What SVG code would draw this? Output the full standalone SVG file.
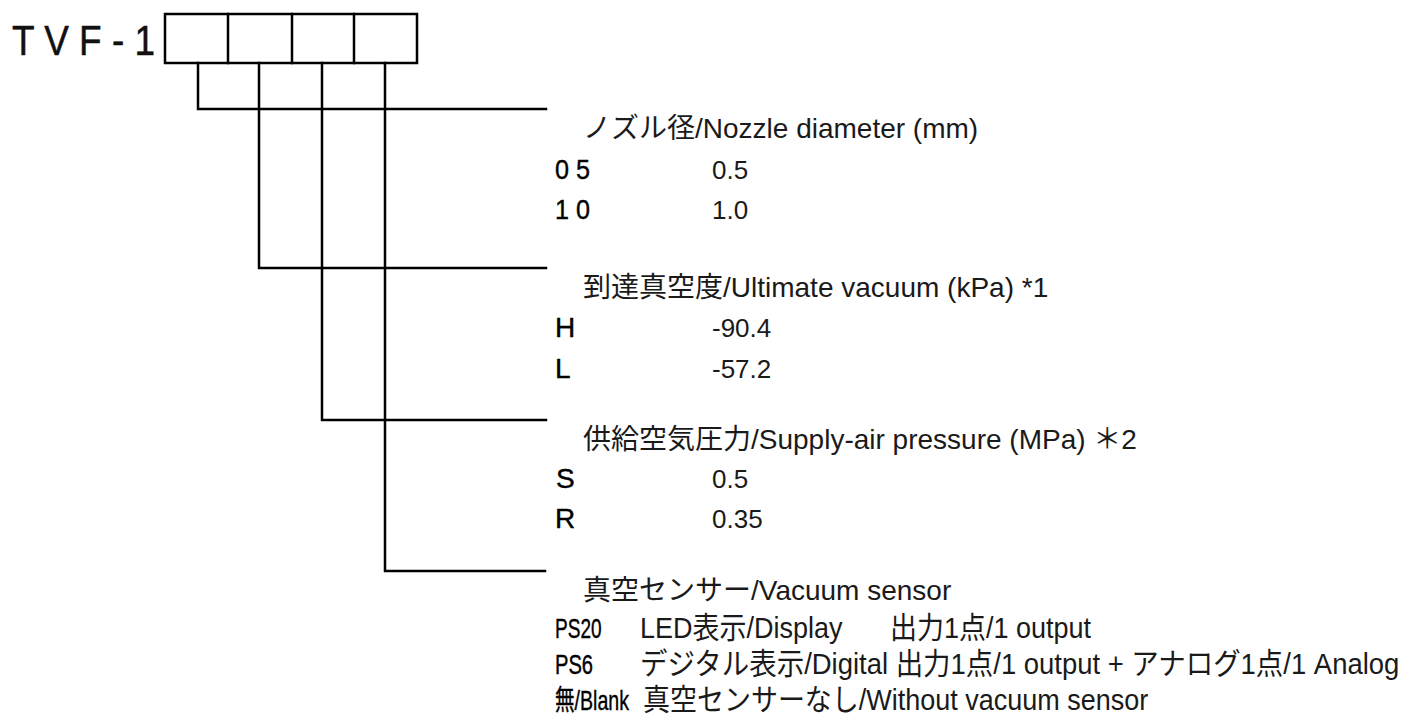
<svg xmlns="http://www.w3.org/2000/svg" width="1408" height="724" viewBox="0 0 1408 724">
<style>
.ln{stroke:#000;stroke-width:2.5;fill:none;stroke-linecap:square}
.hd{font-family:"Liberation Sans","Noto Sans CJK JP",sans-serif;font-size:28px;fill:#1a1a1a}
.cd{font-family:"Liberation Sans","Noto Sans CJK JP",sans-serif;font-size:28px;fill:#000;stroke:#000;stroke-width:0.4}
.vl{font-family:"Liberation Sans",sans-serif;font-size:26px;fill:#1a1a1a}
.ds{font-family:"Liberation Sans","Noto Sans CJK JP",sans-serif;font-size:30px;fill:#1a1a1a}
</style>
<rect width="1408" height="724" fill="#fff"/>
<g id="model">
<text transform="translate(12,55) scale(0.86,1)" font-family="Liberation Sans,sans-serif" font-size="43" fill="#111" stroke="#111" stroke-width="0.5">T V F - 1</text>
<rect class="ln" x="165" y="14" width="252" height="49"/>
<line class="ln" x1="228" y1="14" x2="228" y2="63"/>
<line class="ln" x1="292" y1="14" x2="292" y2="63"/>
<line class="ln" x1="354" y1="14" x2="354" y2="63"/>
</g>
<g id="connectors">
<polyline class="ln" points="198,63 198,109 546,109"/>
<polyline class="ln" points="259,63 259,268 546,268"/>
<polyline class="ln" points="322,63 322,420 546,420"/>
<polyline class="ln" points="385,63 385,571 545,571"/>
</g>
<g id="nozzle">
<text class="hd" x="583" y="138">ノズル径/Nozzle diameter (mm)</text>
<text class="cd" transform="translate(555,179) scale(0.9,1)">0 5</text>
<text class="vl" x="712" y="179">0.5</text>
<text class="cd" transform="translate(555,219) scale(0.9,1)">1 0</text>
<text class="vl" x="712" y="219">1.0</text>
</g>
<g id="vacuum">
<text class="hd" x="583" y="297">到達真空度/Ultimate vacuum (kPa) *1</text>
<text class="cd" x="555" y="337">H</text>
<text class="vl" x="712" y="337">-90.4</text>
<text class="cd" x="555" y="378">L</text>
<text class="vl" x="712" y="378">-57.2</text>
</g>
<g id="pressure">
<text class="hd" x="583" y="449">供給空気圧力/Supply-air pressure (MPa) ＊2</text>
<text class="cd" x="556" y="488">S</text>
<text class="vl" x="712" y="488">0.5</text>
<text class="cd" x="555" y="528">R</text>
<text class="vl" x="712" y="528">0.35</text>
</g>
<g id="sensor">
<text class="hd" x="583" y="600">真空センサー/Vacuum sensor</text>
<text class="cd" transform="translate(555,638) scale(0.68,1)">PS20</text>
<text class="ds" transform="translate(640,638) scale(0.9,1)">LED表示/Display</text>
<text class="ds" transform="translate(890,638) scale(0.9,1)">出力1点/1 output</text>
<text class="cd" transform="translate(555,674) scale(0.72,1)">PS6</text>
<text class="ds" transform="translate(640,674) scale(0.915,1)">デジタル表示/Digital 出力1点/1 output + アナログ1点/1 Analog</text>
<text class="cd" transform="translate(555,710) scale(0.7,1)">無/Blank</text>
<text class="ds" transform="translate(643,710) scale(0.9,1)">真空センサーなし/Without  vacuum sensor</text>
</g>
</svg>
